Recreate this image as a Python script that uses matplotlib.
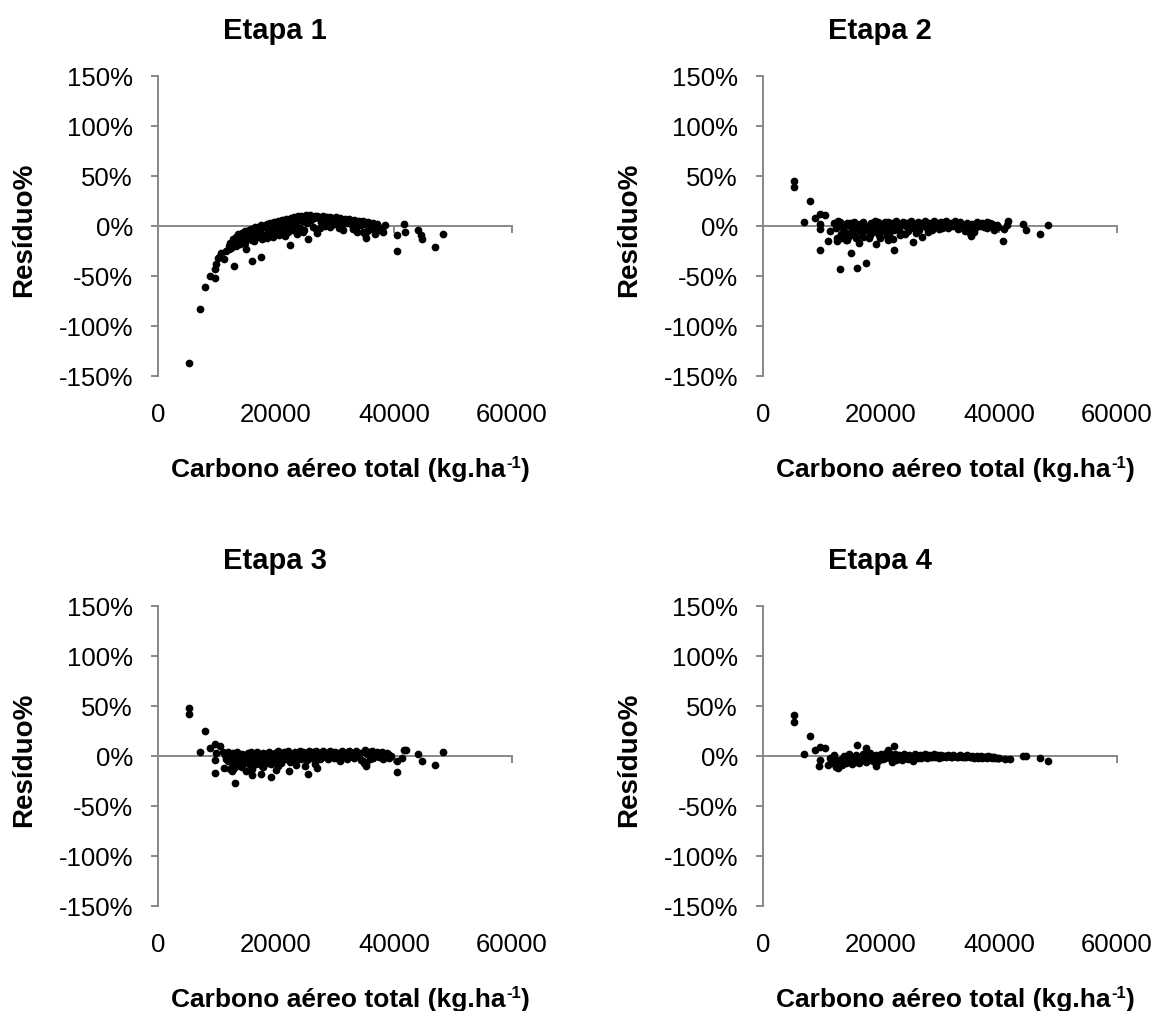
import matplotlib
matplotlib.use('Agg')
import matplotlib.pyplot as plt

plt.rcParams['font.family'] = ['Liberation Sans', 'DejaVu Sans']

# ---------------- data ----------------
panel_titles = ['Etapa 1', 'Etapa 2', 'Etapa 3', 'Etapa 4']
x_ticks = [0, 20000, 40000, 60000]
x_tick_labels = ['0', '20000', '40000', '60000']
y_ticks = [-150, -100, -50, 0, 50, 100, 150]
y_tick_labels = ['-150%', '-100%', '-50%', '0%', '50%', '100%', '150%']
x_label_main = 'Carbono aéreo total (kg.ha'
x_label_sup = '-1'
x_label_end = ')'
y_label = 'Resíduo%'

# (carbono aéreo total kg/ha, resíduo %)
etapa1_pontos = [
    (5250, -137), (7060, -83), (7970, -61), (8810, -50), (9600, -52), (9660, -43), (9770, -38),
    (10170, -32), (10740, -27), (11130, -33), (10500, -30), (11500, -25), (11980, -23), (12150, -17),
    (12710, -13), (12800, -40), (13000, -15), (13560, -8), (13840, -18), (14100, -10), (14500, -6),
    (14970, -23), (15000, -7), (15400, -4), (15930, -35), (15800, -8), (16300, -3), (16600, -10),
    (17000, -1), (17520, -31), (17300, -6), (17800, 0), (18000, -9), (18400, 2), (18700, -4),
    (19000, 3), (19300, -8), (19600, 4), (20000, -2), (20300, 5), (20600, -6), (21000, 6),
    (21300, -3), (21700, 7), (22000, 1), (22320, -19), (22500, 8), (22800, -4), (23100, 9),
    (23400, 2), (23700, 10), (24000, -2), (24300, 10), (24600, 5), (25000, 11), (25480, -13),
    (25300, 3), (25700, 11), (26000, 6), (26300, -1), (26600, 10), (27000, -7), (27300, 9),
    (27600, 4), (28000, 10), (28300, 0), (28700, 9), (29000, 5), (29400, 8), (29800, 2),
    (30100, 9), (30500, 4), (30900, 8), (31300, -4), (31700, 7), (32000, 3), (32400, 7),
    (32800, 1), (33200, 6), (33600, -2), (34000, 5), (34400, 1), (34800, 5), (35300, -12),
    (35000, -8), (35600, 4), (36000, -3), (36400, 3), (36800, 0), (37200, 2), (37600, -2),
    (38140, -6), (38500, 1), (40570, -9), (40570, -25), (41640, 2), (41810, -6), (44070, -4),
    (44500, -9), (44800, -13), (46950, -21), (48310, -8),
    (14300, -13), (15200, -12), (16000, -14), (16800, -11), (17600, -13), (18500, -12), (19500, -11),
    (20500, -9), (21500, -10), (23500, -8), (24500, -6), (26800, -3), (29200, -1), (31000, 0),
    (33000, -3), (34700, -6), (36700, -5), (14800, -17), (13300, -20), (12400, -22), (19800, -5),
    (21200, 0), (22700, 3), (24000, 6), (26200, 8), (27800, 7), (30300, 6), (32600, 4),
    (34300, 2), (36200, 1),
    (13200, -11), (13700, -9), (14200, -7), (14700, -5), (15300, -6), (15700, -3), (16200, -4),
    (16500, -1), (17100, -3), (17500, 1), (18100, -1), (18600, 2), (19200, 0), (19700, 3),
    (20200, 1), (20800, 4), (21200, 2), (21900, 5), (22300, 3), (22900, 7), (23300, 5),
    (23900, 8), (24200, 6), (24800, 9), (25200, 7), (25900, 9), (26400, 8), (26900, 10),
    (27500, 7), (28100, 8), (28500, 6), (29100, 9), (29600, 6), (30300, 7), (30700, 5),
    (31500, 6), (32200, 5), (32900, 4), (33500, 5), (34200, 3), (35100, 2), (35800, 1),
    (36500, 1), (37300, -1), (38000, -3), (12000, -20), (12500, -18), (13100, -19), (14000, -14),
    (15500, -12), (16200, -15), (17200, -9), (18800, -7), (20200, -5), (22100, -6), (24800, -4),
    (27400, -2), (30600, -2), (33800, -6), (35500, -5), (36800, -8), (37500, -4),
]

etapa2_pontos = [
    (5200, 45), (5200, 39), (7910, 25), (7010, 4), (8760, 8), (9600, 12), (10450, 11), (9720, 2),
    (9720, -3), (9600, -24), (11020, -15), (11300, -5), (12540, -15), (12540, -12), (12990, -43),
    (14010, -14), (14970, -27), (15930, -42), (17520, -37), (16270, -17), (19210, -18), (22260, -24),
    (25420, -16), (27010, -11), (21200, -14), (22000, -13), (35310, -10), (40680, -15), (41530, 5),
    (41300, 1), (40900, -3), (44070, 2), (44630, -4), (46950, -8), (48310, 1),
    (12000, 3), (12300, -2), (12700, 5), (13200, -8), (13500, 1), (13800, -5), (14200, 3),
    (14500, -10), (14800, 0), (15100, -6), (15400, 4), (15700, -12), (16000, -2), (16400, 2),
    (16700, -8), (17000, 4), (17300, -4), (17700, 0), (18000, -12), (18300, 3), (18600, -6),
    (18900, 5), (19300, -3), (19600, -9), (20000, 2), (20300, -5), (20700, 4), (21000, -2),
    (21400, -8), (21800, 3), (22200, -4), (22600, 5), (23000, -1), (23400, -7), (23800, 4),
    (24200, 0), (24600, -5), (25000, 5), (25800, -3), (26200, 4), (26600, -1), (27400, 5),
    (27800, -2), (28200, 3), (28600, -4), (29000, 5), (29400, 0), (29800, -3), (30200, 4),
    (30600, -1), (31000, 5), (31400, -2), (31800, 3), (32200, 0), (32600, 5), (33000, -3),
    (33400, 4), (33800, 1), (34200, -5), (34600, 3), (35000, -7), (35500, 2), (35900, -2),
    (36300, 4), (36700, 0), (37100, 3), (37500, -1), (37900, 4), (38300, 0), (38800, 2),
    (39200, -4), (39600, 1),
    (12500, 1), (13000, 4), (13600, -2), (14100, -7), (14700, 3), (15200, -3), (15900, 2),
    (16500, -5), (17100, 1), (17800, -3), (18400, 1), (19000, -1), (19500, 4), (20100, -2),
    (20600, 1), (21200, 4), (21700, -1), (22400, 2), (22900, -3), (23600, 1), (24400, 3),
    (25300, -1), (25600, 2), (26400, -4), (27000, 3), (27600, 1), (28400, -1), (28800, 2),
    (29600, 3), (30400, -2), (30800, 2), (31600, 1), (32400, 3), (32800, -1), (33600, 2),
    (34400, -1), (34800, 1), (35200, -4), (35700, -6), (36500, 2), (37300, 1), (38000, -2),
    (38500, 3), (39000, 1), (39800, -1), (13300, -12), (14300, -14), (15500, -9), (16900, -11),
    (18200, -9), (19800, -12), (21000, -10), (23200, -9), (24000, -8), (26000, -7), (28000, -6),
    (35300, -8),
]

etapa3_pontos = [
    (5260, 48), (5260, 42), (7970, 25), (7060, 4), (8870, 8), (9720, 12), (10570, 10), (9770, 3),
    (9720, -4), (9600, -17), (11130, -12), (12150, -13), (12600, -15), (13050, -27), (13950, -10),
    (14970, -15), (15930, -19), (17520, -18), (19210, -21), (20060, -14), (22200, -15), (25430, -18),
    (27010, -12), (24900, -10), (30790, -5), (35310, -10), (34900, -7), (38140, -3), (40570, -16),
    (40570, -5), (41410, -2), (41640, 6), (42000, 6), (44070, 2), (44800, -5), (46950, -9),
    (48310, 4),
    (11000, 4), (11500, -3), (11900, 4), (12300, -6), (12700, 3), (13200, -2), (13600, 2),
    (14000, -8), (14400, 1), (14800, -4), (15200, 3), (15600, -9), (16000, 0), (16400, -6),
    (16800, 4), (17200, -3), (17600, -10), (18000, 2), (18400, -5), (18800, 4), (19200, -8),
    (19600, 1), (20000, -4), (20400, 5), (20800, -7), (21200, 2), (21600, -3), (22000, 5),
    (22400, -6), (22800, 1), (23200, 4), (23600, -3), (24000, 5), (24400, -1), (24800, 3),
    (25200, -4), (25600, 5), (26000, 0), (26400, -3), (26800, 5), (27200, 1), (27600, -2),
    (28000, 5), (28400, 2), (28800, -3), (29200, 5), (29600, 0), (30000, 4), (30400, -2),
    (31200, 5), (31600, 1), (32000, -3), (32400, 5), (32800, 1), (33200, -2), (33600, 5),
    (34000, 2), (34400, -4), (35000, 6), (35500, 2), (35900, -3), (36300, 5), (36700, 1),
    (37100, 4), (37500, -1), (37900, 4), (38400, 1), (38800, 3), (39200, -2),
    (11300, 1), (11800, -5), (12500, 0), (13000, -7), (13400, 4), (13800, -4), (14200, 2),
    (14600, -7), (15000, 0), (15400, -3), (15800, 4), (16200, -2), (16600, -8), (17000, 1),
    (17400, -5), (17800, 3), (18200, -2), (18600, -7), (19000, 2), (19400, -4), (19800, 3),
    (20200, -1), (20600, 2), (21000, -4), (21400, 4), (21800, -2), (22200, 3), (22600, -4),
    (23000, 2), (23400, -1), (23800, 3), (24200, -3), (24600, 4), (25000, -1), (25400, 3),
    (25800, -2), (26200, 4), (26600, -1), (27000, 3), (27400, -3), (27800, 4), (28200, 0),
    (28600, 3), (29000, -1), (29400, 4), (29800, -2), (30600, 3), (31000, -1), (31400, 4),
    (31800, 2), (32200, -1), (32600, 4), (33000, -1), (33400, 3), (33800, 0), (34200, 3),
    (34700, -5), (35200, -8), (35700, 4), (36100, 1), (36500, -2), (37300, 3), (38200, 2),
    (38600, -1), (39000, 2), (39500, 0), (12800, -12), (14200, -11), (16000, -13), (17800, -11),
    (20400, -10), (23400, -9), (26600, -8),
]

etapa4_pontos = [
    (5200, 41), (5200, 34), (7910, 20), (7010, 2), (8760, 6), (9600, 9), (10450, 8), (9600, -4),
    (9490, -10), (11020, -9), (12320, -11), (12710, -12), (15990, 11), (17520, 8), (22260, 10),
    (21190, 6), (19210, -10), (25420, -5), (40960, -3), (41810, -3), (44070, 0), (44600, 0),
    (46950, -2), (48310, -5),
    (11300, -2), (11700, -7), (12000, 1), (13000, -4), (13400, -9), (13800, 0), (14200, -6),
    (14600, 2), (15000, -8), (15400, -3), (15800, 1), (16200, -7), (16600, -2), (17000, 2),
    (17400, -6), (17800, -1), (18200, 3), (18600, -5), (19000, 0), (19600, -4), (20000, 2),
    (20400, -3), (20800, 3), (21500, -2), (21900, -6), (22300, 2), (22700, -3), (23100, 1),
    (23500, -4), (23900, 2), (24300, -2), (24700, 1), (25100, -3), (25800, 2), (26200, -2),
    (26600, 1), (27000, -1), (27400, 2), (27800, -2), (28200, 1), (28600, -1), (29000, 2),
    (29400, 0), (29800, -2), (30200, 1), (30600, 0), (31000, -1), (31400, 1), (31800, -1),
    (32200, 1), (32600, 0), (33000, -1), (33400, 1), (33800, -1), (34200, 0), (34600, 1),
    (35000, -1), (35400, 0), (35800, -2), (36200, 0), (36600, -1), (37000, 0), (37400, -1),
    (37800, -1), (38200, 0), (38600, -1), (39000, -1), (39400, -2),
    (11500, -5), (12200, -3), (12600, -8), (13200, -6), (13600, -2), (14000, -7), (14400, -3),
    (14800, -1), (15200, -5), (15600, -6), (16000, -1), (16400, -4), (16800, 0), (17200, -3),
    (17600, -5), (18000, 1), (18400, -2), (18800, -4), (19200, 1), (19400, -6), (19800, -1),
    (20200, 0), (20600, -2), (21000, 1), (21300, 3), (21700, -1), (22100, 0), (22500, -4),
    (22900, 0), (23300, -2), (23700, 0), (24100, -1), (24500, -3), (24900, 0), (25300, -1),
    (25600, 0), (26000, -1), (26400, 0), (26800, -2), (27200, 0), (27600, -1), (28000, 0),
    (28400, -1), (28800, 0), (29200, -1), (29600, 1), (30000, 0), (30400, -1), (30800, 0),
    (31200, 0), (31600, 0), (32000, -1), (32400, 0), (32800, -1), (33200, 0), (33600, 0),
    (34000, -1), (34400, -1), (34800, 0), (35200, -1), (35600, -1), (36000, -1), (36400, -2),
    (36800, -1), (37200, -2), (37600, -1), (38000, -2), (38400, -1), (38800, -2), (39200, -1),
    (39600, -2), (40000, -2),
]

paineis = [etapa1_pontos, etapa2_pontos, etapa3_pontos, etapa4_pontos]

# ---------------- layout ----------------
W, H = 1163, 1012
fig = plt.figure(figsize=(W / 100, H / 100), dpi=100)
GRAY = '#888888'

panel_origin = [(158, 77), (763, 77), (158, 607), (763, 607)]
PW, PH = 354, 300


def fx(px):
    return px / W


def fy(py):
    return 1 - py / H


renderer = fig.canvas.get_renderer()

for i in range(4):
    l, t = panel_origin[i]
    ax = fig.add_axes([fx(l), fy(t + PH), PW / W, PH / H])
    xs = [p[0] for p in paineis[i]]
    ys = [p[1] for p in paineis[i]]
    ax.scatter(xs, ys, s=31, c='black', linewidths=0, zorder=3, clip_on=False)
    ax.set_xlim(0, 60000)
    ax.set_ylim(-150, 150)
    for s in ['top', 'right']:
        ax.spines[s].set_visible(False)
    ax.spines['bottom'].set_position(('data', 0))
    for s in ['left', 'bottom']:
        ax.spines[s].set_color(GRAY)
        ax.spines[s].set_linewidth(1.4)
    ax.set_xticks(x_ticks)
    ax.tick_params(axis='x', direction='out', length=5, width=1.4, color=GRAY, labelbottom=False)
    ax.set_yticks(y_ticks)
    ax.set_yticklabels(y_tick_labels)
    ax.tick_params(axis='y', direction='out', length=5, width=1.4, color=GRAY, pad=13, labelsize=18.5)
    sec = ax.secondary_xaxis('bottom')
    sec.set_xticks(x_ticks)
    sec.set_xticklabels(x_tick_labels)
    sec.tick_params(length=0, pad=18.5, labelsize=18.5)
    sec.spines['bottom'].set_visible(False)

    dx = l - 158
    dy = t - 77
    fig.text(fx(274.5 + dx), fy(31 + dy), panel_titles[i], ha='center', va='center',
             fontsize=21, fontweight='bold')
    fig.text(fx(24 + dx), fy(230 + dy), y_label, ha='center', va='center', rotation=90,
             fontsize=20, fontweight='bold')

    # x label with superscript, centred on pixel column cx, baseline at by
    cx, by = 350 + dx, 477.5 + dy
    t1 = fig.text(0, 0, x_label_main, fontsize=19, fontweight='bold', va='baseline', ha='left')
    t2 = fig.text(0, 0, x_label_sup, fontsize=12, fontweight='bold', va='baseline', ha='left')
    t3 = fig.text(0, 0, x_label_end, fontsize=19, fontweight='bold', va='baseline', ha='left')
    w1 = t1.get_window_extent(renderer).width
    w2 = t2.get_window_extent(renderer).width
    w3 = t3.get_window_extent(renderer).width
    x0 = cx - (w1 + w2 + w3) / 2
    t1.set_position((fx(x0), fy(by)))
    t2.set_position((fx(x0 + w1 + 0.5), fy(by - 9)))
    t3.set_position((fx(x0 + w1 + w2 + 1), fy(by)))

fig.savefig('out.png', dpi=100)
